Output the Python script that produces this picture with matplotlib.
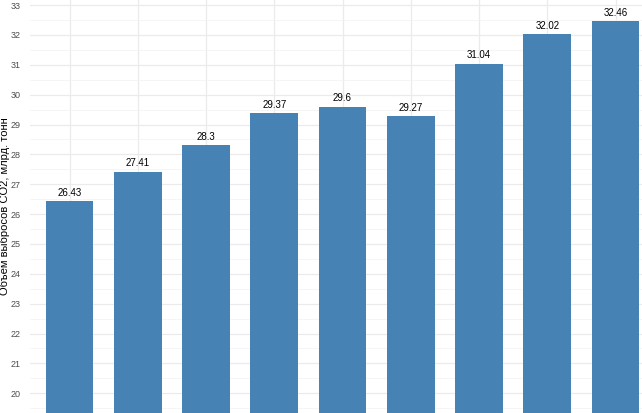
import matplotlib
matplotlib.use("Agg")
import matplotlib.pyplot as plt
import numpy as np

plt.rcParams['font.family'] = ['Liberation Sans', 'DejaVu Sans']

# emissions per bar (x labels are cut off in the reference)
positions = [1, 2, 3, 4, 5, 6, 7, 8, 9]
emissions = [26.43, 27.41, 28.3, 29.37, 29.6, 29.27, 31.04, 32.02, 32.46]
value_labels = ['26.43', '27.41', '28.3', '29.37', '29.6', '29.27', '31.04', '32.02', '32.46']
y_ticks = list(range(20, 34))

fig = plt.figure(figsize=(6.42, 4.13), dpi=100)
ax = fig.add_axes([30 / 642, 0, 1 - 30 / 642, 1])

ax.bar(positions, emissions, width=0.7, color='#4682B4', zorder=2)
for x, v, lbl in zip(positions, emissions, value_labels):
    ax.text(x, v + 0.12, lbl, ha='center', va='bottom', fontsize=7, color='black', zorder=3)

ax.set_xlim(0.421, 9.388)
ax.set_ylim(19.34, 33.17)
ax.set_yticks(y_ticks)
ax.set_yticks(np.arange(19.5, 33.5, 1.0), minor=True)
ax.set_xticks(positions)
ax.set_xticklabels([])

ax.grid(which='major', color='#EBEBEB', linewidth=0.9, zorder=0)
ax.grid(which='minor', axis='y', color='#F2F2F2', linewidth=0.5, zorder=0)
ax.tick_params(axis='both', which='both', length=0)
ax.tick_params(axis='y', labelsize=6.5, labelcolor='#4D4D4D', pad=7)
for s in ax.spines.values():
    s.set_visible(False)

fig.text(0.0075, 0.501, 'Объем выбросов CO2, млрд. тонн', rotation=90,
         ha='center', va='center', fontsize=8, color='black')

fig.savefig('out.png', dpi=100)
